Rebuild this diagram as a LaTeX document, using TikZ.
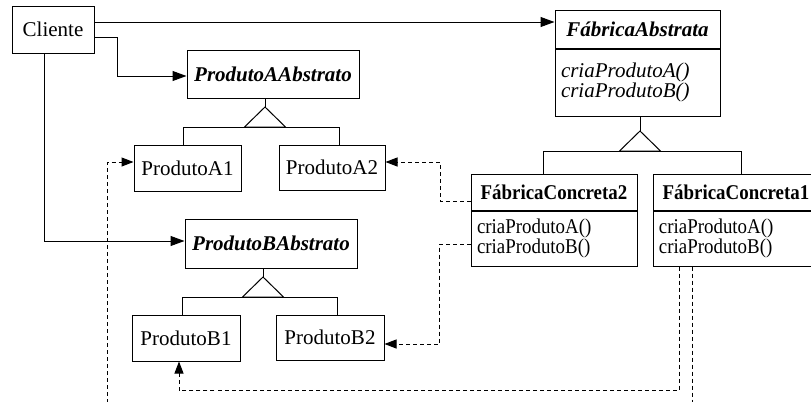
\documentclass[tikz,border=0pt]{standalone}
\usepackage{fontspec}
\setmainfont{Liberation Serif}
\newfontfamily\estreita{Liberation Serif}[FakeStretch=0.9]
\usetikzlibrary{arrows.meta,positioning}

\begin{document}
\begin{tikzpicture}[x=0.5pt,y=-0.5pt,line width=0.5pt,
  every node/.style={font=\fontsize{10.5}{10.5}\selectfont},
  classe/.style={draw,inner sep=0pt,align=center},
  corpo/.style={draw,inner xsep=3pt,inner ysep=0pt,align=left},
  assoc/.style={-{Triangle[length=7pt,width=5pt]}},
  depend/.style={dash pattern=on 2pt off 1.5pt,-{Triangle[length=6pt,width=4.5pt]}}]
\useasboundingbox (0,0) rectangle (811,402);
\fill[white] (0,0) rectangle (811,402);
\clip (0,0) rectangle (811,402);

% classes
\node[classe,minimum width=41pt,minimum height=23.5pt] (cli) at (53,29.5) {Cliente};
\node[classe,minimum width=86pt,minimum height=24pt] (paa) at (273,74) {\bfseries\itshape ProdutoAAbstrato};
\node[classe,minimum width=53.5pt,minimum height=23pt] (pa1) at (187.5,168) {ProdutoA1};
\node[classe,minimum width=53pt,minimum height=22.5pt] (pa2) at (332,167.5) {ProdutoA2};
\node[classe,minimum width=86pt,minimum height=24.5pt] (pba) at (271,243.5) {\bfseries\itshape ProdutoBAbstrato};
\node[classe,minimum width=54pt,minimum height=23pt] (pb1) at (186,338) {ProdutoB1};
\node[classe,minimum width=54pt,minimum height=22.5pt] (pb2) at (330,337.5) {ProdutoB2};

\node[classe,minimum width=82.5pt,minimum height=19pt] (fa) at (637.5,29) {\bfseries\itshape FábricaAbstrata};
\node[corpo,text width=76.5pt,minimum height=33.5pt,below=0pt of fa,
  font=\fontsize{10.5}{10}\selectfont\itshape] (fam) {criaProdutoA()\\criaProdutoB()};

\node[classe,minimum width=83pt,minimum height=18pt] (fc2) at (554,192) {\estreita\bfseries FábricaConcreta2};
\node[corpo,text width=77pt,minimum height=27.5pt,below=0pt of fc2,
  font=\fontsize{10.5}{10}\estreita] (fc2m) {criaProdutoA()\\criaProdutoB()};
\node[classe,minimum width=83pt,minimum height=18pt] (fc1) at (736,192) {\estreita\bfseries FábricaConcreta1};
\node[corpo,text width=77pt,minimum height=27.5pt,below=0pt of fc1,
  font=\fontsize{10.5}{10}\estreita] (fc1m) {criaProdutoA()\\criaProdutoB()};

% heranca
\foreach \pai/\ax/\ay/\fa/\fb/\xa/\xb in {paa/265/107/pa1/pa2/183/339,
    pba/263/277/pb1/pb2/182/337, fam/640/131/fc2/fc1/543/741}{
  \draw (\ax,0 |- \pai.south) -- (\ax,\ay);
  \draw (\ax,\ay) -- (\ax-20.5,\ay+20) -- (\ax+20.5,\ay+20) -- cycle;
  \draw (\xa,0 |- \fa.north) |- (\xb,\ay+20) -- (\xb,0 |- \fb.north);
}

% associacoes
\draw[assoc] (cli.east |- 0,22) -- (fa.west |- 0,22);
\draw[assoc] (cli.east |- 0,37.5) -| (117,76) -- (paa.west |- 0,76);
\draw[assoc] (44,0 |- cli.south) |- (pba.west |- 0,241);

% dependencias
\draw[depend] (fc2.west |- 0,201) -| (440,162) -- (pa2.east |- 0,162);
\draw[depend] (fc2m.west |- 0,244) -| (439,344) -- (pb2.east |- 0,344);
\draw[depend] (679,0 |- fc1m.south) |- (179,390) -- (179,0 |- pb1.south);
\draw[depend] (692,0 |- fc1m.south) |- (107,420) |- (pa1.west |- 0,162);
\end{tikzpicture}
\end{document}
